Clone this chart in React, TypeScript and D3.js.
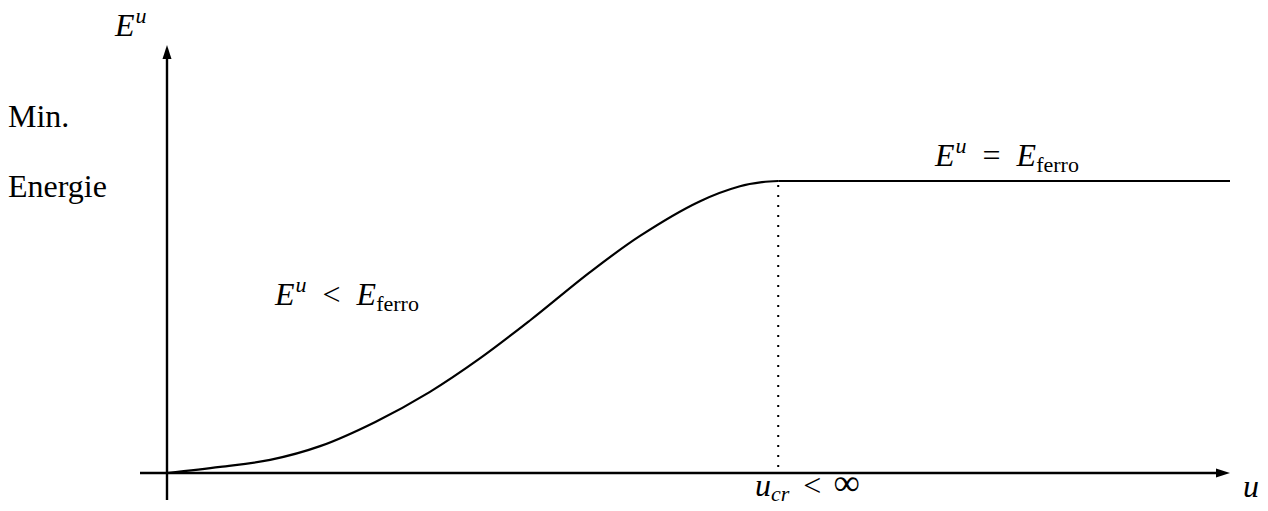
import React from "react";
import * as d3 from "d3";

// Minimum energy E^u as a function of u (E_ferro normalised to 1)
const uValues = [0, 5, 9.7, 14.4, 19.6, 24.7, 29.5, 34.2, 39.8, 44.5, 50.1, 53.9, 56, 57.5];
const energyValues = [0, 0.021, 0.045, 0.092, 0.175, 0.277, 0.394, 0.524, 0.688, 0.812, 0.93, 0.982, 0.996, 1];
const uCritical = 57.5;
const uMax = 100;
const eFerro = 1;

const W = 1268;
const H = 511;

export default function App() {
  const x = d3.scaleLinear().domain([0, uMax]).range([167, 1230]);
  const y = d3.scaleLinear().domain([0, eFerro]).range([473, 181]);

  const pts: [number, number][] = uValues.map((u, i) => [u, energyValues[i]]);
  const curve = d3
    .line<[number, number]>()
    .x((d) => x(d[0]))
    .y((d) => y(d[1]))
    .curve(d3.curveCatmullRom.alpha(0.5))(pts);

  const serif = "'Liberation Serif', 'DejaVu Serif', serif";
  const math = { fontFamily: serif, fontStyle: "italic" as const };
  const roman = { fontFamily: serif };
  const fs = 32;
  const small = 22;

  const xAxisY = y(0);
  const yAxisX = x(0);
  const yTop = 45;
  const xRight = 1230;

  return (
    <svg width={W} height={H} style={{ position: "absolute", left: 0, top: 0, background: "#fff" }}>
      {/* axes */}
      <line x1={140} y1={xAxisY} x2={xRight - 10} y2={xAxisY} stroke="#000" strokeWidth={2.4} />
      <path d={`M${xRight},${xAxisY} L${xRight - 14},${xAxisY - 4.5} L${xRight - 14},${xAxisY + 4.5} Z`} fill="#000" />
      <line x1={yAxisX} y1={500} x2={yAxisX} y2={yTop + 10} stroke="#000" strokeWidth={2.4} />
      <path d={`M${yAxisX},${yTop} L${yAxisX - 4.5},${yTop + 14} L${yAxisX + 4.5},${yTop + 14} Z`} fill="#000" />

      {/* energy curve and plateau */}
      <path d={curve ?? ""} fill="none" stroke="#000" strokeWidth={2.2} />
      <line x1={x(uCritical)} y1={y(eFerro)} x2={x(uMax)} y2={y(eFerro)} stroke="#000" strokeWidth={2.2} />
      <line
        x1={x(uCritical)}
        y1={y(eFerro) + 4}
        x2={x(uCritical)}
        y2={xAxisY}
        stroke="#000"
        strokeWidth={2}
        strokeDasharray="2 8"
      />

      {/* labels */}
      <text x={115} y={36} fontSize={fs} {...math}>
        E<tspan dx={1} dy={-13} fontSize={small}>u</tspan>
      </text>
      <text x={8} y={127} fontSize={fs} {...roman}>Min.</text>
      <text x={8} y={197} fontSize={fs} {...roman}>Energie</text>

      <text x={935} y={166} fontSize={fs} {...math}>
        E<tspan dx={1} dy={-13} fontSize={small}>u</tspan>
        <tspan dx={16} dy={13} fontStyle="normal">=</tspan>
        <tspan dx={16}>E</tspan>
        <tspan dy={6} fontSize={small} fontStyle="normal">ferro</tspan>
      </text>

      <text x={275} y={305} fontSize={fs} {...math}>
        E<tspan dx={1} dy={-13} fontSize={small}>u</tspan>
        <tspan dx={16} dy={13} fontStyle="normal">&lt;</tspan>
        <tspan dx={16}>E</tspan>
        <tspan dy={6} fontSize={small} fontStyle="normal">ferro</tspan>
      </text>

      <text x={755} y={496} fontSize={fs} {...math}>
        u<tspan dy={5} fontSize={small}>cr</tspan>
        <tspan dx={14} dy={-5} fontStyle="normal">&lt;</tspan>
        <tspan dx={12} dy={-1} fontSize={37} fontStyle="normal">∞</tspan>
      </text>

      <text x={1243} y={497} fontSize={fs} {...math}>u</text>
    </svg>
  );
}
